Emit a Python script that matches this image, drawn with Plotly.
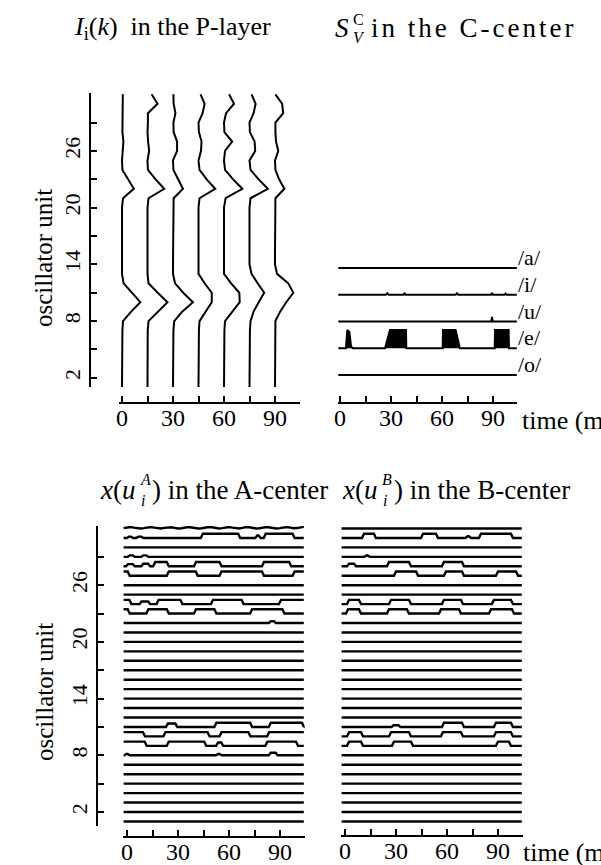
import plotly.graph_objects as go

W, H = 601, 865
FONT = "Liberation Serif"

# ---------------- data ----------------
units = list(range(1, 33))
p_times = [0, 15, 30, 45, 60, 75, 90]
P_t0 = [0,0,0,0,0,0,0.02,0.05,0.45,0.9,0.5,0.08,0,0,0,0,0,0,0,0,0.05,0.58,0.3,0.02,0,0.02,0.07,0.02,0.03,0.04,0.03,0.04]
P_t15 = [0,0,0,0,0,0,0.01,0.05,0.5,0.98,0.5,0.05,0,0,0,0,0,0,0,0,0.05,0.82,0.4,0.02,0,0.08,0.03,0,0.02,0.02,0.49,0.2]
P_t30 = [0,0,0,0,0,0,0.02,0.06,0.45,0.98,0.5,0.1,0,0,0,0,0,0,0,0,0.03,0.49,0.25,0.02,0,0.2,0.2,0.03,0.02,0.12,0.03,0.02]
P_t45 = [0,0,0,0,0,0,0.02,0.05,0.35,0.65,0.65,0.3,0,0,0,0,0,0,0,0,0.05,0.82,0.4,0.05,0,0.12,0.15,0.02,0,0.2,0.3,0.1]
P_t60 = [0,0,0,0,0,0,0.02,0.05,0.4,0.77,0.75,0.35,0,0,0,0,0,0,0,0,0.08,0.9,0.45,0.05,0,0.05,0.4,0.02,0,0.1,0.49,0.25]
P_t75 = [0,0,0,0,0,0,0.02,0.05,0.2,0.45,0.72,0.4,0.1,0,0,0,0,0,0,0,0.05,0.9,0.45,0.05,0,0.28,0.25,0.02,0,0.2,0.3,0.1]
P_t90 = [0,0,0,0,0,0,0.01,0.02,0.25,0.55,0.9,0.65,0.1,0,0,0,0,0,0,0,0.02,0.46,0.2,0.02,0,0.16,0.05,0.02,0.02,0.4,0.35,0.02]
P_profiles = [P_t0, P_t15, P_t30, P_t45, P_t60, P_t75, P_t90]

vowels = ["/o/", "/e/", "/u/", "/i/", "/a/"]
C_o_t = [-1, 104]
C_o_v = [0, 0]
C_e_t = [-1, 3.5, 4.3, 5.5, 6.5, 7.5, 26.5, 29.4, 38.8, 39.0, 60.4, 60.6, 68.0, 69.4, 70.5, 91.0, 91.2, 99.2, 99.4, 104]
C_e_v = [0, 0, 1.0, 0.9, 0.1, 0, 0, 1.0, 1.0, 0, 0, 1.0, 1.0, 0.4, 0, 0, 1.0, 1.0, 0, 0]
C_u_t = [-1, 89.0, 89.4, 89.8, 104]
C_u_v = [0, 0, 0.25, 0, 0]
C_i_t = [-1, 27.0, 27.8, 28.6, 37.4, 38.0, 38.6, 68.0, 68.8, 69.6, 88.8, 89.4, 90.0, 96.8, 97.4, 98.0, 104]
C_i_v = [0, 0, 0.08, 0, 0, 0.1, 0, 0, 0.08, 0, 0, 0.1, 0, 0, 0.06, 0, 0]
C_a_t = [-1, 104]
C_a_v = [0, 0]

# A-center: unit 32 oscillates continuously (sampled every 2 ms from -2 ms)
A_u32_v = [0.1,0.3,0.35,0.2,0.05,0,0.1,0.3,0.35,0.2,0.05,0,0.15,0.3,0.3,0.15,0,0.05,0.25,0.35,
           0.25,0.1,0,0.05,0.25,0.35,0.3,0.1,0,0.1,0.3,0.35,0.2,0.05,0,0.15,0.35,0.3,0.1,0,
           0.05,0.25,0.35,0.25,0.05,0,0.1,0.3,0.35,0.2,0.05,0.1,0.3,0.4]
# plateau intervals [start, end, level] per oscillator unit
A_u31 = [[0.5,3,0.3],[6,9,0.3],[44,66,1],[76,78,0.6],[81,98,1]]
A_u29 = [[1,4,0.35],[9,12,0.35]]
A_u28 = [[0,4,0.5],[9,13,0.6],[16,24,1],[40,55,1],[80,96,1]]
A_u27 = [[-2,1,1],[24,41,1],[55,80,1],[98,104,1]]
A_u24 = [[-2,2,1],[8,13,0.6],[18,32,1],[50,68,1],[90,104,1]]
A_u23 = [[-2,1,1],[12,24,1],[40,52,1],[73,92,1]]
A_u22 = [[84,87,0.4]]
A_u11 = [[23.5,29,0.8],[52,73,1],[84,103.5,1]]
A_u10 = [[-2,10,1],[22,48,1],[55,72,1],[83,104,1]]
A_u9 = [[-2,11,1],[24,46,1],[53,56,0.8],[82,100,1]]
A_u8 = [[-1,1,0.3],[53,55,0.3],[84,88,0.6]]
A_steps = {31: A_u31, 29: A_u29, 28: A_u28, 27: A_u27, 24: A_u24, 23: A_u23,
           22: A_u22, 11: A_u11, 10: A_u10, 9: A_u9, 8: A_u8}

B_u31 = [[10.6,17.6,1],[45.3,54.1,1],[71.5,73.5,0.4],[79.4,98.2,1]]
B_u29 = [[12,14,0.3]]
B_u28 = [[1.8,5.9,0.6],[25.3,38.2,1],[57.6,69.4,1]]
B_u27 = [[29.4,42.4,1],[58.8,69.4,1],[89.4,101.2,1]]
B_u24 = [[1.8,8.8,1],[26.5,38.2,1],[57.6,68.8,1],[87,98.2,1]]
B_u23 = [[1.2,8.8,1],[25.3,37,1],[55.9,67.6,1],[85.3,98.8,1]]
B_u11 = [[28,32,0.4],[57.6,69.4,1],[88.2,98.2,1]]
B_u10 = [[1.8,10,1],[26.5,38.2,1],[57,68.8,1],[88.2,98.2,1]]
B_u9 = [[1.8,10,1],[28.2,39.4,1],[89.4,97,1]]
B_steps = {31: B_u31, 29: B_u29, 28: B_u28, 27: B_u27, 24: B_u24, 23: B_u23,
           11: B_u11, 10: B_u10, 9: B_u9}

x_ticks = [0, 15, 30, 45, 60, 75, 90]
x_ticktext = ["0", "", "30", "", "60", "", "90"]
y_ticks = [2, 5, 8, 11, 14, 17, 20, 23, 26, 29]
y_ticktext = ["2", "", "8", "", "14", "", "20", "", "26", ""]

# ---------------- styles ----------------
P_SCALE = 12.0     # ms of horizontal deflection per unit of I
C_SCALE = 0.68     # block height in row spacings
X_SCALE = 0.45     # plateau height in unit spacings
RAMP = 1.2
T0, T1 = -2.0, 104.0
LW = 2.0
LW_X = 2.4
PXU = 1.7  # px per ms


def fx(p):
    return p / W


def fy(p):
    return 1 - p / H


def steps_line(intervals):
    ts, vs = [T0], [0.0]
    for a, b, lv in intervals:
        if a <= T0 + 0.1:
            vs[0] = lv
        else:
            ts += [a - RAMP / 2, a + RAMP / 2]
            vs += [0.0, lv]
        if b >= T1 - 0.1:
            ts.append(T1)
            vs.append(lv)
            return ts, vs
        ts += [b - RAMP / 2, b + RAMP / 2]
        vs += [lv, 0.0]
    ts.append(T1)
    vs.append(0.0)
    return ts, vs


fig = go.Figure()
line = dict(color="black", width=LW)
line_x = dict(color="black", width=LW_X)

# P-layer
for t, prof in zip(p_times, P_profiles):
    fig.add_trace(go.Scatter(x=[t + P_SCALE * v for v in prof], y=units, mode="lines",
                             line=line, xaxis="x", yaxis="y", hoverinfo="skip"))

# C-center
for idx, (tt, vv) in enumerate([(C_o_t, C_o_v), (C_e_t, C_e_v), (C_u_t, C_u_v),
                                (C_i_t, C_i_v), (C_a_t, C_a_v)]):
    fig.add_trace(go.Scatter(x=tt, y=[idx + C_SCALE * v for v in vv], mode="lines",
                             line=line, fill="toself" if idx == 1 else None,
                             fillcolor="black", xaxis="x2", yaxis="y2", hoverinfo="skip"))

# A-center
for u in units:
    if u == 32:
        ts = [T0 + 2 * i for i in range(len(A_u32_v))]
        vs = A_u32_v
    else:
        ts, vs = steps_line(A_steps.get(u, []))
    fig.add_trace(go.Scatter(x=ts, y=[u + X_SCALE * v for v in vs], mode="lines",
                             line=line_x, xaxis="x3", yaxis="y3", hoverinfo="skip"))

# B-center
for u in units:
    ts, vs = steps_line(B_steps.get(u, []))
    fig.add_trace(go.Scatter(x=ts, y=[u + X_SCALE * v for v in vs], mode="lines",
                             line=line_x, xaxis="x4", yaxis="y4", hoverinfo="skip"))

tickfont = dict(family=FONT, size=24, color="black")


def xaxis(px0, r0, r1, ypos):
    return dict(domain=[fx(px0 + r0 * PXU), fx(px0 + r1 * PXU)], range=[r0, r1],
                anchor="free", position=fy(ypos), showline=True, linecolor="black",
                linewidth=1.5, ticks="inside", ticklen=6, tickwidth=1.5, tickcolor="black",
                tickvals=x_ticks, ticktext=x_ticktext, tickfont=tickfont,
                ticklabelstandoff=-7, automargin=False,
                showgrid=False, zeroline=False, fixedrange=True)


def yaxis_units(top, bottom, u_ref, px_ref, xpos, visible=True):
    r1 = u_ref + (px_ref - top) / 9.45
    r0 = u_ref - (bottom - px_ref) / 9.45
    return dict(domain=[fy(bottom), fy(top)], range=[r0, r1], anchor="free",
                position=fx(xpos), showline=visible, linecolor="black", linewidth=1.5,
                ticks="inside" if visible else "", ticklen=6, tickwidth=1.5, tickcolor="black",
                tickvals=y_ticks, ticktext=y_ticktext, tickangle=-90,
                tickfont=dict(family=FONT, size=22, color="black"), automargin=False,
                showticklabels=visible, showgrid=False, zeroline=False, fixedrange=True)


layout = dict(
    template="none",
    width=W, height=H, margin=dict(l=0, r=0, t=0, b=0, pad=0, autoexpand=False),
    paper_bgcolor="white", plot_bgcolor="white", showlegend=False,
    xaxis=xaxis(122, -1.5, 104.7, 403),
    yaxis=yaxis_units(93, 387, 26, 151, 90),
    xaxis2=xaxis(340, -1.2, 104.1, 403),
    yaxis2=dict(domain=[fy(385), fy(255)], range=[-0.374, 4.486], anchor="free",
                position=fx(517), side="right", showline=False, ticks="",
                tickvals=[i + 0.4 for i in range(5)], ticktext=vowels,
                tickfont=dict(family=FONT, size=22, color="black"), automargin=False,
                showgrid=False, zeroline=False, fixedrange=True),
    xaxis3=xaxis(127, -2.5, 104.5, 837),
    yaxis3=yaxis_units(526, 826, 2, 812, 97),
    xaxis4=xaxis(345, -2.5, 104.5, 836),
    yaxis4=yaxis_units(526, 826, 2, 812, 345, visible=False),
)
fig.update_layout(**layout)

tf = dict(family=FONT, size=26, color="black")
cf = dict(family=FONT, size=27, color="black")
bf = dict(family=FONT, size=27, color="black")
sf = dict(family=FONT, size=16, color="black")
ann = []


def A(text, x, y, font=tf, xanchor="center", angle=0):
    ann.append(dict(text=text, x=fx(x), y=fy(y), xref="paper", yref="paper",
                    showarrow=False, font=font, xanchor=xanchor, yanchor="middle",
                    textangle=angle))


A("<i>I</i><sub>i</sub>(<i>k</i>)  in the P-layer", 172, 28)
A("<i>S</i>", 333, 28, font=cf, xanchor="left")
A("C", 351, 19, font=sf, xanchor="left")
A("<i>V</i>", 351, 37, font=sf, xanchor="left")
A("<span style='letter-spacing:3px'>in the C-center</span>", 369, 28, font=cf, xanchor="left")
A("<i>x</i>(<i>u</i>", 137, 490, font=bf, xanchor="right")
A("<i>A</i>", 138, 480, font=sf, xanchor="left")
A("<i>i</i>", 139, 500, font=sf, xanchor="left")
A(") in the A-center", 150, 490, font=bf, xanchor="left")
A("<i>x</i>(<i>u</i>", 379, 490, font=bf, xanchor="right")
A("<i>B</i>", 380, 480, font=sf, xanchor="left")
A("<i>i</i>", 381, 500, font=sf, xanchor="left")
A(") in the B-center", 392, 490, font=bf, xanchor="left")
A("oscillator unit", 44, 258, font=dict(family=FONT, size=25, color="black"), angle=-90)
A("oscillator unit", 44, 692, font=dict(family=FONT, size=25, color="black"), angle=-90)
A("time (ms)", 520, 420, xanchor="left")
A("time (ms)", 521, 852, xanchor="left")
fig.update_layout(annotations=ann)

fig.write_html(
    "out.html",
    config={"displayModeBar": False},
    post_script="document.body.style.margin='0';document.body.style.padding='0';"
                "document.body.style.overflow='hidden';",
)
